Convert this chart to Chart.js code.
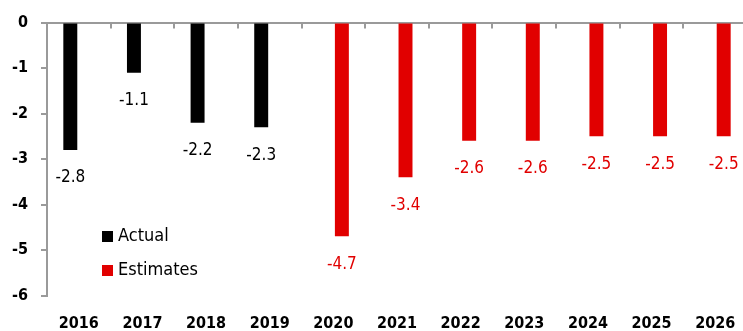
<!DOCTYPE html>
<html lang="en">
<head>
<meta charset="UTF-8">
<title>Actual vs Estimates</title>
<script src="https://cdn.jsdelivr.net/npm/chart.js"></script>
<style>
  html, body { margin: 0; padding: 0; background: #ffffff; overflow: hidden; }
  .wrap { width: 760px; height: 331px; }
</style>
</head>
<body>
<div class="wrap"><canvas id="chart" width="760" height="331"></canvas></div>
<script>
// data
const years = ['2016','2017','2018','2019','2020','2021','2022','2023','2024','2025','2026'];
const actual = [-2.8, -1.1, -2.2, -2.3, null, null, null, null, null, null, null];
const estimates = [null, null, null, null, -4.7, -3.4, -2.6, -2.6, -2.5, -2.5, -2.5];
const yTicks = [0, -1, -2, -3, -4, -5, -6];

const FONT = "'Liberation Sans Narrow', 'DejaVu Sans Condensed', 'Arial Narrow', sans-serif";
const BLACK = '#000000';
const RED = '#e10000';
const AXIS = '#9a9a9a';

// value labels under each bar end
const valueLabels = {
  id: 'valueLabels',
  afterDatasetsDraw(chart) {
    const ctx = chart.ctx;
    ctx.save();
    ctx.font = '17px ' + FONT;
    ctx.textAlign = 'center';
    ctx.textBaseline = 'middle';
    chart.data.datasets.forEach((ds, i) => {
      const meta = chart.getDatasetMeta(i);
      meta.data.forEach((bar, j) => {
        const v = ds.data[j];
        if (v === null) return;
        ctx.fillStyle = ds.backgroundColor;
        ctx.fillText(v.toFixed(1), bar.x, bar.y + 28);
      });
    });
    ctx.restore();
  }
};

// short tick marks hanging from the zero line, plus legend inside the plot
const extras = {
  id: 'extras',
  afterDraw(chart) {
    const ctx = chart.ctx;
    const area = chart.chartArea;
    const n = years.length;
    const step = (area.right - area.left) / n;
    const y0 = chart.scales.y.getPixelForValue(0);
    ctx.save();
    ctx.strokeStyle = AXIS;
    ctx.lineWidth = 2;
    for (let i = 1; i <= n; i++) {
      const x = Math.round(area.left + i * step);
      ctx.beginPath();
      ctx.moveTo(x, y0);
      ctx.lineTo(x, y0 + 6);
      ctx.stroke();
    }
    // legend
    ctx.font = '18px ' + FONT;
    ctx.textBaseline = 'middle';
    ctx.textAlign = 'left';
    const items = [['Actual', BLACK, 236], ['Estimates', RED, 270]];
    items.forEach(([label, color, cy]) => {
      ctx.fillStyle = color;
      ctx.fillRect(102, cy - 5, 11, 11);
      ctx.fillStyle = '#000';
      ctx.fillText(label, 118, cy);
    });
    ctx.restore();
  }
};

new Chart(document.getElementById('chart'), {
  type: 'bar',
  data: {
    labels: years,
    datasets: [
      { label: 'Actual', data: actual, backgroundColor: BLACK,
        categoryPercentage: 0.535, barPercentage: 0.82 },
      { label: 'Estimates', data: estimates, backgroundColor: RED,
        categoryPercentage: 0.535, barPercentage: 0.82 }
    ]
  },
  options: {
    responsive: false,
    animation: false,
    layout: { padding: { top: 22, right: 13, left: 0, bottom: 0 } },
    plugins: {
      legend: { display: false },
      tooltip: { enabled: false }
    },
    scales: {
      x: {
        grid: { display: false, drawTicks: false },
        border: { display: false },
        ticks: {
          color: '#000',
          font: { family: FONT, size: 16, weight: 'bold' },
          padding: 19,
          maxRotation: 0,
          autoSkip: false
        },
        afterFit(scale) { scale.height = 35.5; }
      },
      y: {
        min: -6,
        max: 0,
        afterBuildTicks(scale) { scale.ticks = yTicks.map(v => ({ value: v })); },
        grid: {
          drawOnChartArea: true,
          color: (c) => c.tick && c.tick.value === 0 ? AXIS : 'rgba(0,0,0,0)',
          tickColor: AXIS,
          tickLength: 6,
          lineWidth: 2
        },
        border: { display: true, color: AXIS, width: 2 },
        ticks: {
          color: '#000',
          font: { family: FONT, size: 16, weight: 'bold' },
          padding: 13,
          callback: (v) => String(v)
        },
        afterFit(scale) { scale.width = 47; }
      }
    }
  },
  plugins: [valueLabels, extras]
});
</script>
</body>
</html>
